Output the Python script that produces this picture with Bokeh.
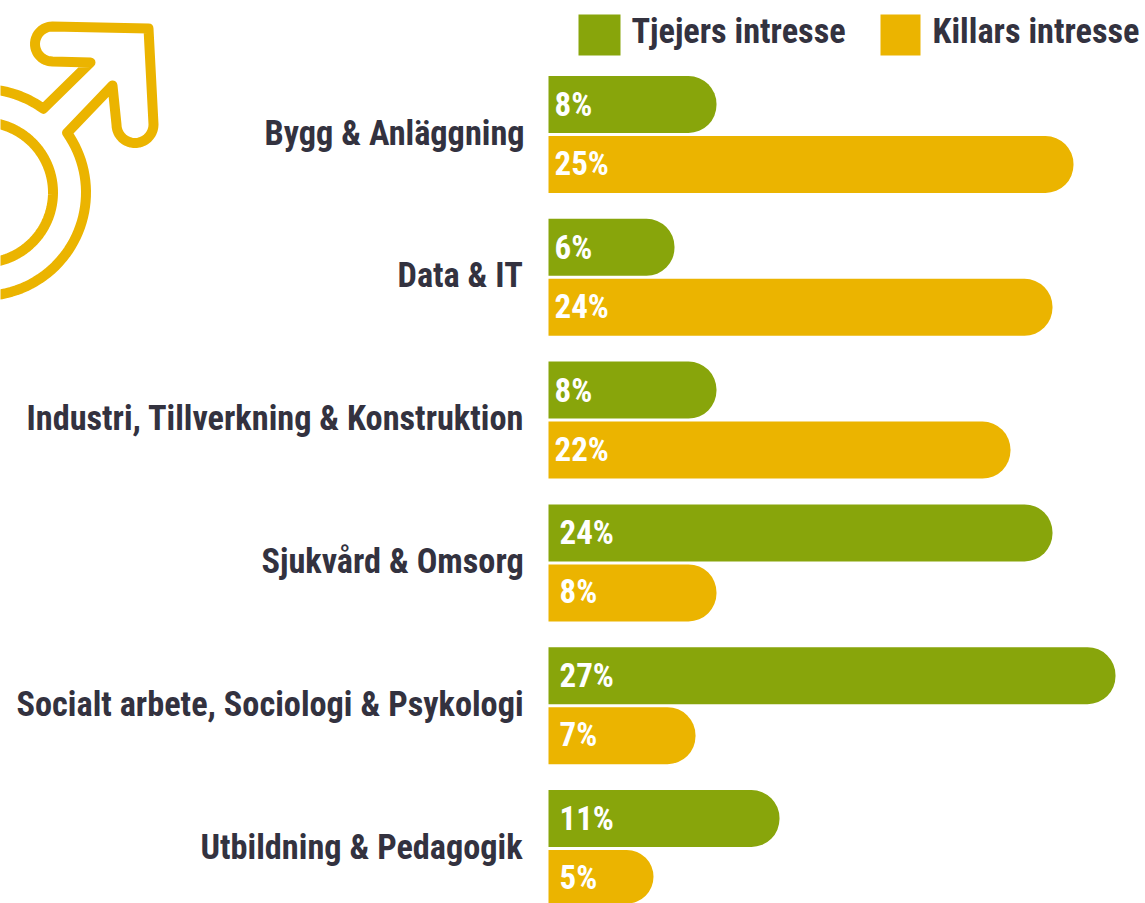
import numpy as np
from bokeh.plotting import figure
from bokeh.models import ColumnDataSource, Range1d
from bokeh.core.properties import value
from bokeh.embed import file_html
from bokeh.resources import INLINE

categories = ["Bygg & Anläggning", "Data & IT", "Industri, Tillverkning & Konstruktion",
              "Sjukvård & Omsorg", "Socialt arbete, Sociologi & Psykologi", "Utbildning & Pedagogik"]
tjejer = [8, 6, 8, 24, 27, 11]
killar = [25, 24, 22, 8, 7, 5]
series_names = ["Tjejers intresse", "Killars intresse"]

GREEN = "#88A50B"
YELLOW = "#EBB400"
INK = "#33323F"
FONT = "Roboto"

W, H = 1145, 903
PX_PER_PCT = 21.0
PX_PER_ROW = 142.8
X0_PAGE, Y0_PAGE = 548.0, 134.0

label_left_px = [264, 397, 26, 261, 16, 200]
value_offset_px = [6, 6, 6, 11, 11, 11]
legend_box_px = [(578, 620), (880, 920)]
legend_text_px = [631, 932]

def px_x(x):
    return (np.asarray(x, float) - X0_PAGE) / PX_PER_PCT

def px_y(y):
    return (np.asarray(y, float) - Y0_PAGE) / PX_PER_ROW

p = figure(width=W, height=H, output_backend="svg", toolbar_location=None,
           x_range=Range1d(float(px_x(0)), float(px_x(W))),
           y_range=Range1d(float(px_y(H)), float(px_y(0))),
           min_border=0, outline_line_color=None, background_fill_color="white",
           border_fill_color="white")
p.styles = {"font-stretch": "75%"}
p.axis.visible = False
p.grid.visible = False

row = np.arange(len(categories), dtype=float)
bar_h = 57 / PX_PER_ROW
shift = 30 / PX_PER_ROW
src = ColumnDataSource(dict(
    y=row, cat=categories, t=tjejer, k=killar,
    yt=row - shift, yk=row + shift,
    tl=[f"{v}%" for v in tjejer], kl=[f"{v}%" for v in killar],
    off=value_offset_px, lx=px_x(label_left_px),
))

p.hbar(y="yt", left=0, right="t", height=bar_h, source=src, fill_color=GREEN,
       line_color=None, border_radius=(0, 28, 28, 0))
p.hbar(y="yk", left=0, right="k", height=bar_h, source=src, fill_color=YELLOW,
       line_color=None, border_radius=(0, 28, 28, 0))

p.text(x="lx", y="y", text="cat", source=src, y_offset=-2, text_align="left", text_baseline="middle",
       text_font=value(FONT), text_font_style="bold", text_font_size="34.3px", text_color=INK)
p.text(x=0, y="yt", text="tl", source=src, x_offset="off", text_align="left", text_baseline="middle",
       text_font=value(FONT), text_font_style="bold", text_font_size="33px", text_color="white")
p.text(x=0, y="yk", text="kl", source=src, x_offset="off", y_offset=-1, text_align="left", text_baseline="middle",
       text_font=value(FONT), text_font_style="bold", text_font_size="33px", text_color="white")

# Legend: swatches and labels
for (x0, x1), tx, name, col in zip(legend_box_px, legend_text_px, series_names, [GREEN, YELLOW]):
    p.quad(left=[float(px_x(x0))], right=[float(px_x(x1))], top=[float(px_y(14))], bottom=[float(px_y(55))],
           fill_color=col, line_color=None)
    p.text(x=[float(px_x(tx))], y=[float(px_y(30))], text=[name], text_align="left", text_baseline="middle",
           text_font=value(FONT), text_font_style="bold", text_font_size="34.3px", text_color=INK)

# Decorative male symbol, traced in page pixels
cx, cy, r_in, r_out = -18.0, 192.0, 70.5, 103.5
a = np.linspace(0, 2 * np.pi, 181)
p.line(px_x(cx + r_in * np.cos(a)), px_y(cy + r_in * np.sin(a)), line_color=YELLOW, line_width=10)

def arc(c_x, c_y, r, a0, a1, n=24):
    t = np.radians(np.linspace(a0, a1, n))
    return c_x + r * np.cos(t), c_y + r * np.sin(t)

a0 = np.degrees(np.arctan2(132 - cy, 67 - cx))
a1 = np.degrees(np.arctan2(108 - cy, 43 - cx))
ring_x, ring_y = arc(cx, cy, r_out, a0, a0 + ((a1 - a0) % 360), 120)
head_l_x, head_l_y = arc(52, 43.5, 17.5, 90, 270)
tail_x, tail_y = arc(134.5, 124, 18.5, 0, 180)
ix = np.concatenate([ring_x, [90], head_l_x, [148], tail_x, [112], [67]])
iy = np.concatenate([ring_y, [62], head_l_y, [28], tail_y, [85], [132]])
p.line(px_x(ix), px_y(iy), line_color=YELLOW, line_width=10, line_join="round", line_cap="round")

open("out.html", "w").write(file_html(p, INLINE))
